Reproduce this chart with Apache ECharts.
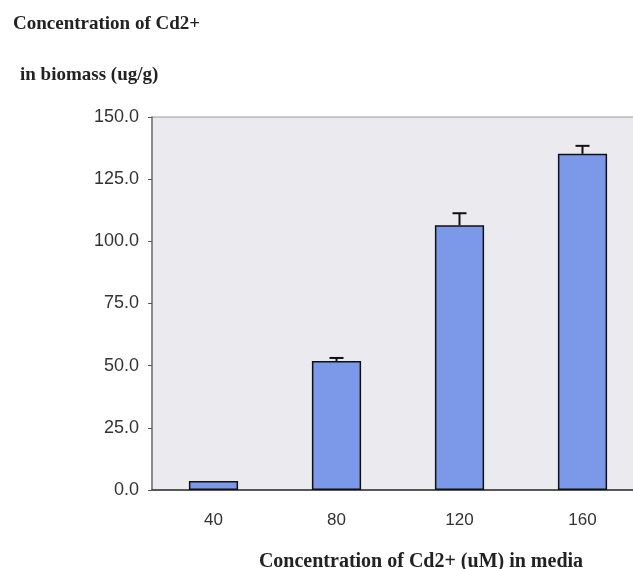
<!DOCTYPE html>
<html>
<head>
<meta charset="utf-8">
<script src="https://cdn.jsdelivr.net/npm/echarts@6/dist/echarts.min.js"></script>
<style>
  html, body { margin: 0; padding: 0; background: #fff; }
  #chart { width: 633px; height: 569px; }
</style>
</head>
<body>
<div id="chart"></div>
<script>
const categories = ['40', '80', '120', '160'];
const cdBiomass = [3.6, 51.9, 106.5, 135.2];
const cdError = [0, 1.2, 4.8, 3.2];
const yTicks = [0, 25, 50, 75, 100, 125, 150];

const chart = echarts.init(document.getElementById('chart'));
const serif = '"Liberation Serif", "DejaVu Serif", serif';
const sans = '"Liberation Sans", Arial, sans-serif';

chart.setOption({
  animation: false,
  title: [
    { text: 'Concentration of Cd2+', left: 8, top: 10, textStyle: { fontFamily: serif, fontSize: 19, fontWeight: 'bold', color: '#222' } },
    { text: 'in biomass (ug/g)', left: 15, top: 61, textStyle: { fontFamily: serif, fontSize: 19, fontWeight: 'bold', color: '#222' } }
  ],
  grid: {
    left: 152, top: 117, width: 492, height: 373,
    outerBoundsMode: 'none', containLabel: false,
    show: true, backgroundColor: '#ebeaee', borderColor: '#9a9a9e', borderWidth: 1
  },
  xAxis: {
    type: 'category',
    data: categories,
    name: 'Concentration of Cd2+ (uM) in media',
    nameLocation: 'middle',
    nameGap: 62,
    nameTextStyle: { fontFamily: serif, fontSize: 20, fontWeight: 'bold', color: '#222', padding: [0, 0, 0, 46] },
    axisLine: { lineStyle: { color: '#333', width: 1.5 } },
    axisTick: { show: false },
    axisLabel: { fontFamily: sans, fontSize: 17, color: '#333', margin: 22 }
  },
  yAxis: {
    type: 'value',
    min: yTicks[0], max: yTicks[yTicks.length - 1], interval: 25,
    axisLine: { show: true, lineStyle: { color: '#777', width: 1.5 } },
    axisTick: { show: true, length: 4, lineStyle: { color: '#555' } },
    splitLine: { show: false },
    axisLabel: { fontFamily: sans, fontSize: 18, color: '#333', margin: 13, formatter: v => v.toFixed(1) }
  },
  series: [
    {
      type: 'bar',
      data: cdBiomass,
      barWidth: '40%',
      itemStyle: { color: '#7c98e8', borderColor: '#111', borderWidth: 1.5 }
    },
    {
      type: 'custom',
      data: cdBiomass.map((v, i) => [i, v, v + cdError[i]]),
      renderItem: function (params, api) {
        if (api.value(2) <= api.value(1)) return null;
        const base = api.coord([api.value(0), api.value(1)]);
        const top = api.coord([api.value(0), api.value(2)]);
        const half = 7;
        const style = { stroke: '#111', lineWidth: 2 };
        return {
          type: 'group',
          children: [
            { type: 'line', shape: { x1: base[0], y1: base[1], x2: top[0], y2: top[1] }, style: style },
            { type: 'line', shape: { x1: top[0] - half, y1: top[1], x2: top[0] + half, y2: top[1] }, style: style }
          ]
        };
      },
      z: 3
    }
  ]
});
</script>
</body>
</html>
